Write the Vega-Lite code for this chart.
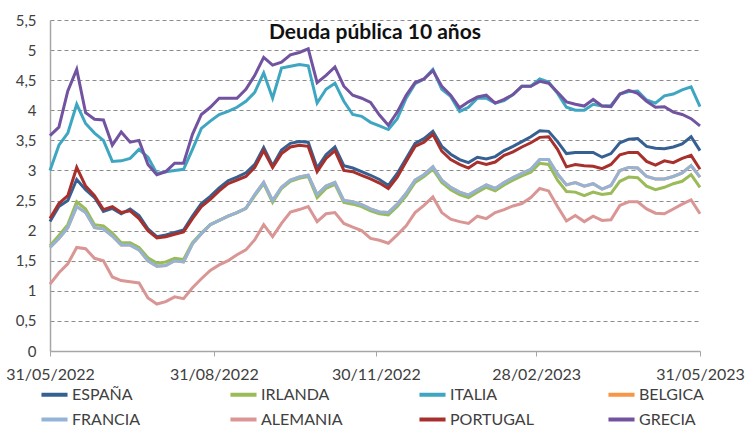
{
"$schema": "https://vega.github.io/schema/vega-lite/v6.json",
"width": 650, "height": 331,
"autosize": "none",
"padding": {"left": 50, "top": 20, "right": 46, "bottom": 78},
"background": "white",
"title": {"text": "Deuda pública 10 años", "offset": -30, "fontSize": 21, "font": "Lato", "fontWeight": "bold", "color": "#111111", "anchor": "middle"},
"data": {"values": [
{"d":"2022-05-31","ESPAÑA":2.15,"IRLANDA":1.75,"ITALIA":3.0,"BELGICA":1.72,"FRANCIA":1.72,"ALEMANIA":1.11,"PORTUGAL":2.2,"GRECIA":3.58},
{"d":"2022-06-05","ESPAÑA":2.4,"IRLANDA":1.92,"ITALIA":3.42,"BELGICA":1.87,"FRANCIA":1.87,"ALEMANIA":1.3,"PORTUGAL":2.45,"GRECIA":3.72},
{"d":"2022-06-10","ESPAÑA":2.5,"IRLANDA":2.1,"ITALIA":3.62,"BELGICA":2.05,"FRANCIA":2.05,"ALEMANIA":1.45,"PORTUGAL":2.58,"GRECIA":4.32},
{"d":"2022-06-15","ESPAÑA":2.85,"IRLANDA":2.48,"ITALIA":4.1,"BELGICA":2.4,"FRANCIA":2.4,"ALEMANIA":1.72,"PORTUGAL":3.05,"GRECIA":4.68},
{"d":"2022-06-20","ESPAÑA":2.68,"IRLANDA":2.36,"ITALIA":3.78,"BELGICA":2.3,"FRANCIA":2.3,"ALEMANIA":1.7,"PORTUGAL":2.74,"GRECIA":3.96},
{"d":"2022-06-25","ESPAÑA":2.55,"IRLANDA":2.1,"ITALIA":3.62,"BELGICA":2.05,"FRANCIA":2.05,"ALEMANIA":1.54,"PORTUGAL":2.58,"GRECIA":3.85},
{"d":"2022-06-30","ESPAÑA":2.32,"IRLANDA":2.08,"ITALIA":3.5,"BELGICA":2.03,"FRANCIA":2.03,"ALEMANIA":1.5,"PORTUGAL":2.35,"GRECIA":3.84},
{"d":"2022-07-05","ESPAÑA":2.37,"IRLANDA":1.96,"ITALIA":3.15,"BELGICA":1.91,"FRANCIA":1.91,"ALEMANIA":1.23,"PORTUGAL":2.4,"GRECIA":3.42},
{"d":"2022-07-10","ESPAÑA":2.28,"IRLANDA":1.8,"ITALIA":3.16,"BELGICA":1.76,"FRANCIA":1.76,"ALEMANIA":1.17,"PORTUGAL":2.3,"GRECIA":3.64},
{"d":"2022-07-15","ESPAÑA":2.36,"IRLANDA":1.8,"ITALIA":3.2,"BELGICA":1.76,"FRANCIA":1.76,"ALEMANIA":1.15,"PORTUGAL":2.33,"GRECIA":3.47},
{"d":"2022-07-20","ESPAÑA":2.25,"IRLANDA":1.72,"ITALIA":3.35,"BELGICA":1.68,"FRANCIA":1.68,"ALEMANIA":1.13,"PORTUGAL":2.2,"GRECIA":3.5},
{"d":"2022-07-25","ESPAÑA":2.03,"IRLANDA":1.55,"ITALIA":3.22,"BELGICA":1.5,"FRANCIA":1.5,"ALEMANIA":0.88,"PORTUGAL":2.0,"GRECIA":3.1},
{"d":"2022-07-30","ESPAÑA":1.9,"IRLANDA":1.46,"ITALIA":2.95,"BELGICA":1.41,"FRANCIA":1.41,"ALEMANIA":0.78,"PORTUGAL":1.88,"GRECIA":2.93},
{"d":"2022-08-04","ESPAÑA":1.93,"IRLANDA":1.48,"ITALIA":2.98,"BELGICA":1.42,"FRANCIA":1.42,"ALEMANIA":0.82,"PORTUGAL":1.9,"GRECIA":2.98},
{"d":"2022-08-09","ESPAÑA":1.97,"IRLANDA":1.54,"ITALIA":3.0,"BELGICA":1.5,"FRANCIA":1.5,"ALEMANIA":0.9,"PORTUGAL":1.94,"GRECIA":3.12},
{"d":"2022-08-14","ESPAÑA":2.01,"IRLANDA":1.52,"ITALIA":3.02,"BELGICA":1.48,"FRANCIA":1.48,"ALEMANIA":0.87,"PORTUGAL":1.98,"GRECIA":3.12},
{"d":"2022-08-19","ESPAÑA":2.24,"IRLANDA":1.8,"ITALIA":3.35,"BELGICA":1.78,"FRANCIA":1.78,"ALEMANIA":1.05,"PORTUGAL":2.2,"GRECIA":3.6},
{"d":"2022-08-24","ESPAÑA":2.45,"IRLANDA":1.96,"ITALIA":3.7,"BELGICA":1.95,"FRANCIA":1.95,"ALEMANIA":1.2,"PORTUGAL":2.4,"GRECIA":3.93},
{"d":"2022-08-29","ESPAÑA":2.57,"IRLANDA":2.1,"ITALIA":3.82,"BELGICA":2.1,"FRANCIA":2.1,"ALEMANIA":1.34,"PORTUGAL":2.52,"GRECIA":4.05},
{"d":"2022-09-03","ESPAÑA":2.71,"IRLANDA":2.17,"ITALIA":3.93,"BELGICA":2.17,"FRANCIA":2.17,"ALEMANIA":1.43,"PORTUGAL":2.66,"GRECIA":4.2},
{"d":"2022-09-08","ESPAÑA":2.83,"IRLANDA":2.24,"ITALIA":3.98,"BELGICA":2.24,"FRANCIA":2.24,"ALEMANIA":1.5,"PORTUGAL":2.78,"GRECIA":4.2},
{"d":"2022-09-13","ESPAÑA":2.89,"IRLANDA":2.3,"ITALIA":4.05,"BELGICA":2.3,"FRANCIA":2.3,"ALEMANIA":1.6,"PORTUGAL":2.84,"GRECIA":4.2},
{"d":"2022-09-18","ESPAÑA":2.96,"IRLANDA":2.37,"ITALIA":4.15,"BELGICA":2.37,"FRANCIA":2.37,"ALEMANIA":1.68,"PORTUGAL":2.9,"GRECIA":4.35},
{"d":"2022-09-23","ESPAÑA":3.1,"IRLANDA":2.58,"ITALIA":4.3,"BELGICA":2.6,"FRANCIA":2.6,"ALEMANIA":1.85,"PORTUGAL":3.05,"GRECIA":4.58},
{"d":"2022-09-28","ESPAÑA":3.38,"IRLANDA":2.78,"ITALIA":4.62,"BELGICA":2.8,"FRANCIA":2.8,"ALEMANIA":2.1,"PORTUGAL":3.33,"GRECIA":4.88},
{"d":"2022-10-03","ESPAÑA":3.08,"IRLANDA":2.47,"ITALIA":4.2,"BELGICA":2.5,"FRANCIA":2.5,"ALEMANIA":1.9,"PORTUGAL":3.05,"GRECIA":4.75},
{"d":"2022-10-08","ESPAÑA":3.34,"IRLANDA":2.7,"ITALIA":4.7,"BELGICA":2.72,"FRANCIA":2.72,"ALEMANIA":2.12,"PORTUGAL":3.28,"GRECIA":4.8},
{"d":"2022-10-13","ESPAÑA":3.45,"IRLANDA":2.82,"ITALIA":4.73,"BELGICA":2.84,"FRANCIA":2.84,"ALEMANIA":2.31,"PORTUGAL":3.39,"GRECIA":4.92},
{"d":"2022-10-18","ESPAÑA":3.48,"IRLANDA":2.87,"ITALIA":4.76,"BELGICA":2.89,"FRANCIA":2.89,"ALEMANIA":2.35,"PORTUGAL":3.42,"GRECIA":4.96},
{"d":"2022-10-23","ESPAÑA":3.47,"IRLANDA":2.9,"ITALIA":4.74,"BELGICA":2.92,"FRANCIA":2.92,"ALEMANIA":2.4,"PORTUGAL":3.4,"GRECIA":5.02},
{"d":"2022-10-28","ESPAÑA":3.04,"IRLANDA":2.55,"ITALIA":4.12,"BELGICA":2.6,"FRANCIA":2.6,"ALEMANIA":2.15,"PORTUGAL":2.98,"GRECIA":4.46},
{"d":"2022-11-02","ESPAÑA":3.26,"IRLANDA":2.7,"ITALIA":4.35,"BELGICA":2.74,"FRANCIA":2.74,"ALEMANIA":2.28,"PORTUGAL":3.2,"GRECIA":4.58},
{"d":"2022-11-07","ESPAÑA":3.39,"IRLANDA":2.77,"ITALIA":4.45,"BELGICA":2.8,"FRANCIA":2.8,"ALEMANIA":2.3,"PORTUGAL":3.33,"GRECIA":4.72},
{"d":"2022-11-12","ESPAÑA":3.08,"IRLANDA":2.47,"ITALIA":4.15,"BELGICA":2.5,"FRANCIA":2.5,"ALEMANIA":2.12,"PORTUGAL":3.0,"GRECIA":4.4},
{"d":"2022-11-17","ESPAÑA":3.04,"IRLANDA":2.44,"ITALIA":3.93,"BELGICA":2.48,"FRANCIA":2.48,"ALEMANIA":2.06,"PORTUGAL":2.98,"GRECIA":4.25},
{"d":"2022-11-22","ESPAÑA":2.98,"IRLANDA":2.4,"ITALIA":3.9,"BELGICA":2.43,"FRANCIA":2.43,"ALEMANIA":2.0,"PORTUGAL":2.92,"GRECIA":4.2},
{"d":"2022-11-27","ESPAÑA":2.92,"IRLANDA":2.33,"ITALIA":3.8,"BELGICA":2.36,"FRANCIA":2.36,"ALEMANIA":1.87,"PORTUGAL":2.86,"GRECIA":4.13},
{"d":"2022-12-02","ESPAÑA":2.85,"IRLANDA":2.28,"ITALIA":3.74,"BELGICA":2.31,"FRANCIA":2.31,"ALEMANIA":1.84,"PORTUGAL":2.79,"GRECIA":3.92},
{"d":"2022-12-07","ESPAÑA":2.75,"IRLANDA":2.26,"ITALIA":3.68,"BELGICA":2.3,"FRANCIA":2.3,"ALEMANIA":1.79,"PORTUGAL":2.7,"GRECIA":3.75},
{"d":"2022-12-12","ESPAÑA":2.95,"IRLANDA":2.4,"ITALIA":3.86,"BELGICA":2.44,"FRANCIA":2.44,"ALEMANIA":1.93,"PORTUGAL":2.89,"GRECIA":3.97},
{"d":"2022-12-17","ESPAÑA":3.2,"IRLANDA":2.58,"ITALIA":4.2,"BELGICA":2.62,"FRANCIA":2.62,"ALEMANIA":2.08,"PORTUGAL":3.15,"GRECIA":4.25},
{"d":"2022-12-22","ESPAÑA":3.45,"IRLANDA":2.8,"ITALIA":4.44,"BELGICA":2.84,"FRANCIA":2.84,"ALEMANIA":2.3,"PORTUGAL":3.4,"GRECIA":4.46},
{"d":"2022-12-27","ESPAÑA":3.53,"IRLANDA":2.9,"ITALIA":4.52,"BELGICA":2.93,"FRANCIA":2.93,"ALEMANIA":2.42,"PORTUGAL":3.47,"GRECIA":4.52},
{"d":"2023-01-01","ESPAÑA":3.65,"IRLANDA":3.02,"ITALIA":4.68,"BELGICA":3.06,"FRANCIA":3.06,"ALEMANIA":2.56,"PORTUGAL":3.6,"GRECIA":4.66},
{"d":"2023-01-06","ESPAÑA":3.4,"IRLANDA":2.8,"ITALIA":4.35,"BELGICA":2.84,"FRANCIA":2.84,"ALEMANIA":2.3,"PORTUGAL":3.32,"GRECIA":4.4},
{"d":"2023-01-11","ESPAÑA":3.27,"IRLANDA":2.68,"ITALIA":4.23,"BELGICA":2.72,"FRANCIA":2.72,"ALEMANIA":2.19,"PORTUGAL":3.18,"GRECIA":4.25},
{"d":"2023-01-16","ESPAÑA":3.18,"IRLANDA":2.6,"ITALIA":3.98,"BELGICA":2.64,"FRANCIA":2.64,"ALEMANIA":2.15,"PORTUGAL":3.1,"GRECIA":4.04},
{"d":"2023-01-21","ESPAÑA":3.13,"IRLANDA":2.55,"ITALIA":4.05,"BELGICA":2.59,"FRANCIA":2.59,"ALEMANIA":2.12,"PORTUGAL":3.04,"GRECIA":4.14},
{"d":"2023-01-26","ESPAÑA":3.22,"IRLANDA":2.64,"ITALIA":4.2,"BELGICA":2.68,"FRANCIA":2.68,"ALEMANIA":2.24,"PORTUGAL":3.14,"GRECIA":4.22},
{"d":"2023-01-31","ESPAÑA":3.19,"IRLANDA":2.72,"ITALIA":4.2,"BELGICA":2.76,"FRANCIA":2.76,"ALEMANIA":2.2,"PORTUGAL":3.1,"GRECIA":4.25},
{"d":"2023-02-05","ESPAÑA":3.23,"IRLANDA":2.66,"ITALIA":4.12,"BELGICA":2.7,"FRANCIA":2.7,"ALEMANIA":2.3,"PORTUGAL":3.14,"GRECIA":4.12},
{"d":"2023-02-10","ESPAÑA":3.33,"IRLANDA":2.76,"ITALIA":4.16,"BELGICA":2.8,"FRANCIA":2.8,"ALEMANIA":2.35,"PORTUGAL":3.25,"GRECIA":4.18},
{"d":"2023-02-15","ESPAÑA":3.4,"IRLANDA":2.84,"ITALIA":4.26,"BELGICA":2.88,"FRANCIA":2.88,"ALEMANIA":2.41,"PORTUGAL":3.31,"GRECIA":4.26},
{"d":"2023-02-20","ESPAÑA":3.48,"IRLANDA":2.91,"ITALIA":4.4,"BELGICA":2.95,"FRANCIA":2.95,"ALEMANIA":2.45,"PORTUGAL":3.39,"GRECIA":4.4},
{"d":"2023-02-25","ESPAÑA":3.56,"IRLANDA":2.97,"ITALIA":4.4,"BELGICA":3.02,"FRANCIA":3.02,"ALEMANIA":2.55,"PORTUGAL":3.46,"GRECIA":4.4},
{"d":"2023-03-02","ESPAÑA":3.66,"IRLANDA":3.12,"ITALIA":4.52,"BELGICA":3.18,"FRANCIA":3.18,"ALEMANIA":2.7,"PORTUGAL":3.55,"GRECIA":4.48},
{"d":"2023-03-07","ESPAÑA":3.65,"IRLANDA":3.1,"ITALIA":4.47,"BELGICA":3.18,"FRANCIA":3.18,"ALEMANIA":2.66,"PORTUGAL":3.56,"GRECIA":4.45},
{"d":"2023-03-12","ESPAÑA":3.48,"IRLANDA":2.84,"ITALIA":4.28,"BELGICA":2.94,"FRANCIA":2.94,"ALEMANIA":2.4,"PORTUGAL":3.35,"GRECIA":4.3},
{"d":"2023-03-17","ESPAÑA":3.28,"IRLANDA":2.65,"ITALIA":4.05,"BELGICA":2.76,"FRANCIA":2.76,"ALEMANIA":2.16,"PORTUGAL":3.06,"GRECIA":4.14},
{"d":"2023-03-22","ESPAÑA":3.3,"IRLANDA":2.64,"ITALIA":4.0,"BELGICA":2.8,"FRANCIA":2.8,"ALEMANIA":2.25,"PORTUGAL":3.1,"GRECIA":4.1},
{"d":"2023-03-27","ESPAÑA":3.3,"IRLANDA":2.58,"ITALIA":4.0,"BELGICA":2.74,"FRANCIA":2.74,"ALEMANIA":2.15,"PORTUGAL":3.08,"GRECIA":4.07},
{"d":"2023-04-01","ESPAÑA":3.3,"IRLANDA":2.64,"ITALIA":4.1,"BELGICA":2.78,"FRANCIA":2.78,"ALEMANIA":2.24,"PORTUGAL":3.07,"GRECIA":4.18},
{"d":"2023-04-06","ESPAÑA":3.22,"IRLANDA":2.6,"ITALIA":4.07,"BELGICA":2.69,"FRANCIA":2.69,"ALEMANIA":2.17,"PORTUGAL":3.03,"GRECIA":4.07},
{"d":"2023-04-11","ESPAÑA":3.28,"IRLANDA":2.62,"ITALIA":4.08,"BELGICA":2.75,"FRANCIA":2.75,"ALEMANIA":2.18,"PORTUGAL":3.1,"GRECIA":4.06},
{"d":"2023-04-16","ESPAÑA":3.46,"IRLANDA":2.82,"ITALIA":4.27,"BELGICA":3.0,"FRANCIA":3.0,"ALEMANIA":2.42,"PORTUGAL":3.26,"GRECIA":4.27},
{"d":"2023-04-21","ESPAÑA":3.52,"IRLANDA":2.89,"ITALIA":4.31,"BELGICA":3.05,"FRANCIA":3.05,"ALEMANIA":2.48,"PORTUGAL":3.3,"GRECIA":4.33},
{"d":"2023-04-26","ESPAÑA":3.53,"IRLANDA":2.88,"ITALIA":4.32,"BELGICA":3.04,"FRANCIA":3.04,"ALEMANIA":2.48,"PORTUGAL":3.3,"GRECIA":4.28},
{"d":"2023-05-01","ESPAÑA":3.4,"IRLANDA":2.74,"ITALIA":4.17,"BELGICA":2.9,"FRANCIA":2.9,"ALEMANIA":2.36,"PORTUGAL":3.15,"GRECIA":4.15},
{"d":"2023-05-06","ESPAÑA":3.37,"IRLANDA":2.68,"ITALIA":4.12,"BELGICA":2.86,"FRANCIA":2.86,"ALEMANIA":2.29,"PORTUGAL":3.09,"GRECIA":4.05},
{"d":"2023-05-11","ESPAÑA":3.36,"IRLANDA":2.72,"ITALIA":4.24,"BELGICA":2.86,"FRANCIA":2.86,"ALEMANIA":2.28,"PORTUGAL":3.16,"GRECIA":4.06},
{"d":"2023-05-16","ESPAÑA":3.39,"IRLANDA":2.78,"ITALIA":4.27,"BELGICA":2.9,"FRANCIA":2.9,"ALEMANIA":2.36,"PORTUGAL":3.13,"GRECIA":3.97},
{"d":"2023-05-21","ESPAÑA":3.44,"IRLANDA":2.82,"ITALIA":4.34,"BELGICA":2.96,"FRANCIA":2.96,"ALEMANIA":2.44,"PORTUGAL":3.2,"GRECIA":3.93},
{"d":"2023-05-26","ESPAÑA":3.56,"IRLANDA":2.93,"ITALIA":4.39,"BELGICA":3.08,"FRANCIA":3.08,"ALEMANIA":2.51,"PORTUGAL":3.25,"GRECIA":3.86},
{"d":"2023-05-31","ESPAÑA":3.33,"IRLANDA":2.72,"ITALIA":4.06,"BELGICA":2.89,"FRANCIA":2.89,"ALEMANIA":2.28,"PORTUGAL":3.02,"GRECIA":3.74}
]},
"transform": [{"fold": ["ESPAÑA","IRLANDA","ITALIA","BELGICA","FRANCIA","ALEMANIA","PORTUGAL","GRECIA"], "as": ["pais","v"]}],
"encoding": {
  "x": {"field": "d", "type": "temporal",
    "scale": {"type": "utc", "nice": false, "domain": [{"year":2022,"month":5,"date":31,"utc":true},{"year":2023,"month":5,"date":31,"utc":true}]},
    "axis": {"title": null, "grid": false, "values": [{"year":2022,"month":5,"date":31,"utc":true},{"year":2022,"month":8,"date":31,"utc":true},{"year":2022,"month":11,"date":30,"utc":true},{"year":2023,"month":2,"date":28,"utc":true},{"year":2023,"month":5,"date":31,"utc":true}],
      "labelExpr": "utcFormat(datum.value, '%d/%m/%Y')", "labelFont": "Lato", "labelFontSize": 16, "labelColor": "#404040", "labelPadding": 10, "labelFlush": false, "labelOverlap": false,
      "tickSize": 5, "tickColor": "#a6a6a6", "domainColor": "#a6a6a6", "domainWidth": 1.5}},
  "y": {"field": "v", "type": "quantitative",
    "scale": {"domain": [0, 5.5], "nice": false},
    "axis": {"title": null, "values": [0,0.5,1,1.5,2,2.5,3,3.5,4,4.5,5,5.5], "labelExpr": "replace(toString(datum.value), '.', ',')",
      "labelFont": "Lato", "labelFontSize": 15, "labelColor": "#404040", "labelPadding": 14, "ticks": false,
      "grid": true, "gridDash": [4, 3], "gridColor": "#8c8c8c", "gridWidth": 1, "domainColor": "#a6a6a6", "domainWidth": 1.5}},
  "color": {"field": "pais", "type": "nominal",
    "scale": {"domain": ["ESPAÑA","IRLANDA","ITALIA","BELGICA","FRANCIA","ALEMANIA","PORTUGAL","GRECIA"],
              "range": ["#376092","#9BBB59","#3FA6C2","#F79646","#95B3D7","#D99694","#A8302C","#7253A0"]},
    "legend": {"orient": "none", "legendX": -11, "legendY": 359, "direction": "horizontal", "columns": 4, "title": null,
      "symbolType": "stroke", "symbolSize": 680, "symbolStrokeWidth": 4, "labelFont": "Lato", "labelFontSize": 16, "labelColor": "#404040",
      "columnPadding": 66, "rowPadding": 1, "labelOffset": 2, "gridAlign": "all", "padding": 0}}
},
"layer": [
  {"transform": [{"filter": "datum.pais == 'BELGICA'"}], "mark": {"type": "line", "strokeWidth": 3}},
  {"transform": [{"filter": "datum.pais != 'BELGICA'"}], "mark": {"type": "line", "strokeWidth": 3}}
],
"config": {"view": {"stroke": null}, "font": "Lato"}
}
